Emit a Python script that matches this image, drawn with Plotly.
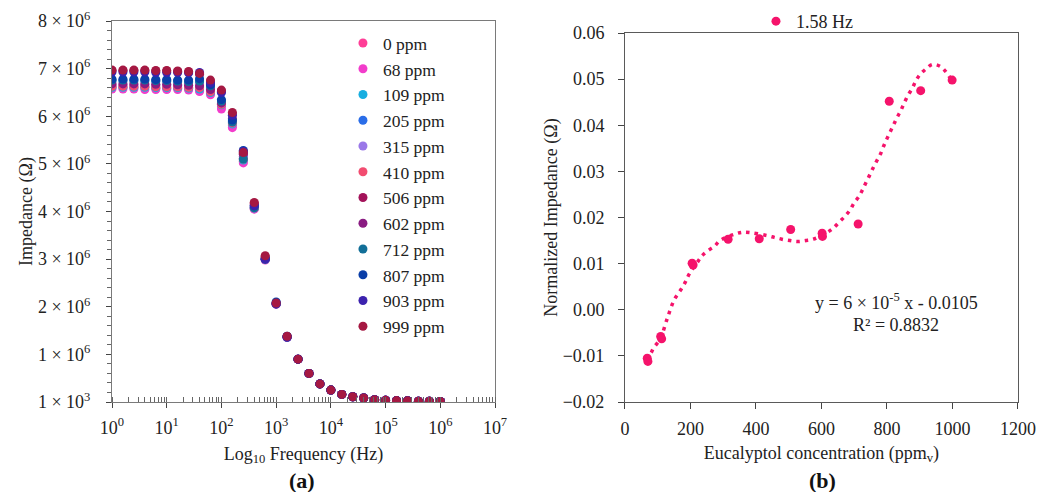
import plotly.graph_objects as go

# ---------------- Panel (a) data ----------------
freq_hz = [1.0, 1.585, 2.512, 3.981, 6.310, 10.0, 15.85, 25.12, 39.81, 63.10,
           100.0, 158.5, 251.2, 398.1, 631.0, 1000.0, 1585.0, 2512.0, 3981.0, 6310.0,
           1.0e4, 1.585e4, 2.512e4, 3.981e4, 6.310e4, 1.0e5, 1.585e5, 2.512e5, 3.981e5, 6.310e5, 1.0e6]

series_names = ["0 ppm", "68 ppm", "109 ppm", "205 ppm", "315 ppm", "410 ppm",
                "506 ppm", "602 ppm", "712 ppm", "807 ppm", "903 ppm", "999 ppm"]
series_colors = ["#FF3E97", "#F23CCB", "#18AEE0", "#2A6DE8", "#9A78E8", "#F24C70",
                 "#A3125A", "#8A1C82", "#126F98", "#0A3EA8", "#3C22AE", "#A51842"]

# impedance in units of 10^6 ohm
z_0 = [6.60, 6.60, 6.60, 6.60, 6.59, 6.59, 6.59, 6.58, 6.54, 6.48, 6.20, 5.80, 5.05, 4.06, 2.99,
       2.06, 1.36, 0.90, 0.60, 0.38, 0.25, 0.16, 0.11, 0.085, 0.05, 0.035, 0.03, 0.025, 0.018, 0.015, 0.012]
z_68 = [6.57, 6.57, 6.57, 6.56, 6.56, 6.56, 6.56, 6.55, 6.52, 6.45, 6.15, 5.76, 5.02, 4.05, 2.98,
        2.05, 1.36, 0.90, 0.60, 0.38, 0.25, 0.16, 0.11, 0.085, 0.05, 0.035, 0.03, 0.025, 0.018, 0.015, 0.012]
z_109 = [6.61, 6.61, 6.61, 6.61, 6.60, 6.60, 6.60, 6.59, 6.57, 6.50, 6.24, 5.84, 5.08, 4.07, 2.99,
         2.06, 1.36, 0.90, 0.60, 0.38, 0.25, 0.16, 0.11, 0.085, 0.05, 0.035, 0.03, 0.025, 0.018, 0.015, 0.012]
z_205 = [6.74, 6.74, 6.74, 6.74, 6.73, 6.73, 6.72, 6.71, 6.72, 6.60, 6.30, 5.90, 5.15, 4.10, 3.01,
         2.07, 1.37, 0.90, 0.60, 0.38, 0.25, 0.16, 0.11, 0.085, 0.05, 0.035, 0.03, 0.025, 0.018, 0.015, 0.012]
z_315 = [6.66, 6.66, 6.66, 6.66, 6.65, 6.65, 6.65, 6.64, 6.62, 6.54, 6.27, 5.88, 5.12, 4.09, 3.00,
         2.07, 1.37, 0.90, 0.60, 0.38, 0.25, 0.16, 0.11, 0.085, 0.05, 0.035, 0.03, 0.025, 0.018, 0.015, 0.012]
z_410 = [6.63, 6.63, 6.63, 6.63, 6.62, 6.62, 6.62, 6.61, 6.60, 6.52, 6.25, 5.86, 5.10, 4.08, 3.00,
         2.06, 1.37, 0.90, 0.60, 0.38, 0.25, 0.16, 0.11, 0.085, 0.05, 0.035, 0.03, 0.025, 0.018, 0.015, 0.012]
z_506 = [6.96, 6.96, 6.96, 6.96, 6.95, 6.95, 6.94, 6.93, 6.88, 6.72, 6.52, 6.05, 5.22, 4.17, 3.05,
         2.08, 1.37, 0.90, 0.60, 0.38, 0.25, 0.16, 0.11, 0.085, 0.05, 0.035, 0.03, 0.025, 0.018, 0.015, 0.012]
z_602 = [6.68, 6.68, 6.68, 6.68, 6.67, 6.67, 6.66, 6.65, 6.64, 6.56, 6.28, 5.95, 5.20, 4.14, 3.03,
         2.07, 1.37, 0.90, 0.60, 0.38, 0.25, 0.16, 0.11, 0.085, 0.05, 0.035, 0.03, 0.025, 0.018, 0.015, 0.012]
z_712 = [6.76, 6.76, 6.76, 6.76, 6.75, 6.75, 6.74, 6.73, 6.74, 6.64, 6.32, 5.88, 5.10, 4.08, 3.00,
         2.06, 1.37, 0.90, 0.60, 0.38, 0.25, 0.16, 0.11, 0.085, 0.05, 0.035, 0.03, 0.025, 0.018, 0.015, 0.012]
z_807 = [6.78, 6.78, 6.78, 6.78, 6.77, 6.77, 6.76, 6.76, 6.79, 6.66, 6.35, 5.92, 5.28, 4.12, 3.01,
         2.10, 1.38, 0.90, 0.60, 0.38, 0.25, 0.16, 0.11, 0.085, 0.05, 0.035, 0.03, 0.025, 0.018, 0.015, 0.012]
z_903 = [6.93, 6.93, 6.93, 6.93, 6.92, 6.92, 6.92, 6.91, 6.92, 6.70, 6.50, 6.02, 5.26, 4.12, 3.00,
         2.06, 1.36, 0.90, 0.60, 0.38, 0.25, 0.16, 0.11, 0.085, 0.05, 0.035, 0.03, 0.025, 0.018, 0.015, 0.012]
z_999 = [6.97, 6.97, 6.97, 6.97, 6.96, 6.96, 6.95, 6.94, 6.90, 6.76, 6.55, 6.08, 5.24, 4.19, 3.07,
         2.08, 1.38, 0.90, 0.60, 0.38, 0.25, 0.16, 0.11, 0.085, 0.05, 0.035, 0.03, 0.025, 0.018, 0.015, 0.012]
series_values = [z_0, z_68, z_109, z_205, z_315, z_410, z_506, z_602, z_712, z_807, z_903, z_999]

a_xtick_vals = [1, 10, 100, 1000, 1e4, 1e5, 1e6, 1e7]
a_xtick_text = ["10<sup>0</sup>", "10<sup>1</sup>", "10<sup>2</sup>", "10<sup>3</sup>",
                "10<sup>4</sup>", "10<sup>5</sup>", "10<sup>6</sup>", "10<sup>7</sup>"]
a_ytick_vals = [0, 1, 2, 3, 4, 5, 6, 7, 8]
a_ytick_text = ["1 × 10<sup>3</sup>", "1 × 10<sup>6</sup>", "2 × 10<sup>6</sup>", "3 × 10<sup>6</sup>",
                "4 × 10<sup>6</sup>", "5 × 10<sup>6</sup>", "6 × 10<sup>6</sup>", "7 × 10<sup>6</sup>",
                "8 × 10<sup>6</sup>"]

# ---------------- Panel (b) data ----------------
conc_ppm = [68, 70, 109, 112, 205, 208, 315, 410, 506, 602, 603, 712, 807, 903, 999]
norm_imp = [-0.0105, -0.0112, -0.0058, -0.0063, 0.0101, 0.0097, 0.0153, 0.0154, 0.0174,
            0.0166, 0.0159, 0.0186, 0.0452, 0.0475, 0.0498]

fit_x = [61, 78, 88, 107, 130, 150, 172, 185, 196, 224, 238, 257, 274, 290, 336, 359, 385, 433,
         456, 479, 504, 527, 552, 575, 616, 636, 654, 672, 687, 700, 714, 726, 736, 748, 758,
         769, 781, 790, 800, 810, 821, 831, 843, 853, 865, 878, 888, 901, 919, 939, 962, 980, 997]
fit_y = [-0.0105, -0.0095, -0.0082, -0.0064, -0.0017, 0.0021, 0.0045, 0.0061, 0.0077, 0.0106,
         0.0119, 0.0130, 0.0138, 0.0150, 0.0164, 0.0168, 0.0167, 0.0161, 0.0157, 0.0153, 0.0150,
         0.0148, 0.0150, 0.0153, 0.0167, 0.0177, 0.0190, 0.0203, 0.0216, 0.0232, 0.0245, 0.0261,
         0.0276, 0.0293, 0.0308, 0.0323, 0.0339, 0.0355, 0.0371, 0.0386, 0.0402, 0.0417, 0.0433,
         0.0449, 0.0466, 0.0481, 0.0496, 0.0510, 0.0522, 0.0532, 0.0528, 0.0516, 0.0498]

b_xtick_vals = [0, 200, 400, 600, 800, 1000, 1200]
b_ytick_vals = [-0.02, -0.01, 0.0, 0.01, 0.02, 0.03, 0.04, 0.05, 0.06]

FONT = "Liberation Serif"
AXCOL = "#7a7a7a"
PINK = "#F5136B"
TICKFONT = dict(family=FONT, size=18, color="#222222")
TITLEFONT = dict(family=FONT, size=18, color="#222222")

fig = go.Figure()

for name, col, vals in zip(series_names, series_colors, series_values):
    fig.add_trace(go.Scatter(x=freq_hz, y=vals, mode="markers", name=name,
                             marker=dict(color=col, size=9),
                             xaxis="x", yaxis="y", legend="legend"))

fig.add_trace(go.Scatter(x=fit_x, y=fit_y, mode="lines", name="Poly. fit", showlegend=False,
                         line=dict(color=PINK, width=3.5, dash="3.5px,5px", shape="spline"),
                         xaxis="x2", yaxis="y2"))
fig.add_trace(go.Scatter(x=conc_ppm, y=norm_imp, mode="markers", name="1.58 Hz",
                         marker=dict(color=PINK, size=9),
                         xaxis="x2", yaxis="y2", legend="legend2"))

fig.update_layout(
    width=1038, height=492,
    margin=dict(l=0, r=0, t=0, b=0, autoexpand=False),
    paper_bgcolor="white", plot_bgcolor="white",
    font=dict(family=FONT, size=18, color="#222222"),
    xaxis=dict(domain=[0.1079, 0.4769], type="log", range=[0, 7],
               tickmode="array", tickvals=a_xtick_vals, ticktext=a_xtick_text, tickfont=TICKFONT,
               ticks="outside", ticklen=5, tickcolor="#444444", ticklabelstandoff=4,
               minor=dict(ticks="inside", ticklen=5, dtick="D1", tickcolor="#666666"),
               showline=True, linecolor=AXCOL, mirror=True, showgrid=False, zeroline=False,
               title=dict(text="Log<sub>10</sub> Frequency (Hz)", standoff=10, font=TITLEFONT),
               automargin=False, anchor="y"),
    yaxis=dict(domain=[0.1829, 0.9573], range=[0, 8],
               tickmode="array", tickvals=a_ytick_vals, ticktext=a_ytick_text, tickfont=TICKFONT,
               ticks="outside", ticklen=5, tickcolor="#444444", ticklabelstandoff=12,
               minor=dict(ticks="outside", ticklen=4, dtick=0.2, tickcolor="#666666"),
               showline=True, linecolor=AXCOL, mirror=True, showgrid=False, zeroline=False,
               title=dict(text="Impedance (Ω)", standoff=0, font=TITLEFONT),
               automargin=False, anchor="x"),
    xaxis2=dict(domain=[0.6021, 0.9807], range=[0, 1200],
                tickmode="array", tickvals=b_xtick_vals, tickfont=TICKFONT,
                ticks="outside", ticklen=6, tickcolor="#444444", ticklabelstandoff=4,
                showline=True, linecolor="#5a5a5a", mirror=True, showgrid=False, zeroline=False,
                title=dict(text="Eucalyptol concentration (ppm<sub>v</sub>)", standoff=8, font=TITLEFONT),
                automargin=False, anchor="y2"),
    yaxis2=dict(domain=[0.1829, 0.9329], range=[-0.02, 0.06],
                tickmode="array", tickvals=b_ytick_vals, tickformat=".2f", tickfont=TICKFONT,
                ticks="outside", ticklen=6, tickcolor="#444444", ticklabelstandoff=10,
                showline=True, linecolor="#5a5a5a", mirror=True, showgrid=False, zeroline=False,
                title=dict(text="Normalized Impedance (Ω)", standoff=0, font=TITLEFONT),
                automargin=False, anchor="x2"),
    legend=dict(x=0.3304, y=0.949, xanchor="left", yanchor="top",
                bgcolor="rgba(0,0,0,0)", font=dict(family=FONT, size=17.5, color="#222222"),
                itemsizing="trace", tracegroupgap=0),
    legend2=dict(x=0.7283, y=0.994, xanchor="left", yanchor="top", orientation="h",
                 bgcolor="rgba(0,0,0,0)", font=dict(family=FONT, size=18, color="#222222")),
    annotations=[
        dict(text="y = 6 × 10<sup>-5</sup> x - 0.0105", xref="x2", yref="y2",
             x=828, y=0.0019, showarrow=False, font=dict(family=FONT, size=18, color="#222222")),
        dict(text="R² = 0.8832", xref="x2", yref="y2",
             x=828, y=-0.0033, showarrow=False, font=dict(family=FONT, size=18, color="#222222")),
        dict(text="<b>(a)</b>", xref="paper", yref="paper", x=0.2906, y=1 - 480 / 492,
             xanchor="center", yanchor="middle",
             showarrow=False, font=dict(family=FONT, size=22, color="#111111")),
        dict(text="<b>(b)</b>", xref="paper", yref="paper", x=0.7924, y=1 - 480 / 492,
             xanchor="center", yanchor="middle",
             showarrow=False, font=dict(family=FONT, size=22, color="#111111")),
    ],
)

fig.write_html("out.html", config={"displayModeBar": False},
               post_script="document.body.style.margin='0';document.body.style.padding='0';")
